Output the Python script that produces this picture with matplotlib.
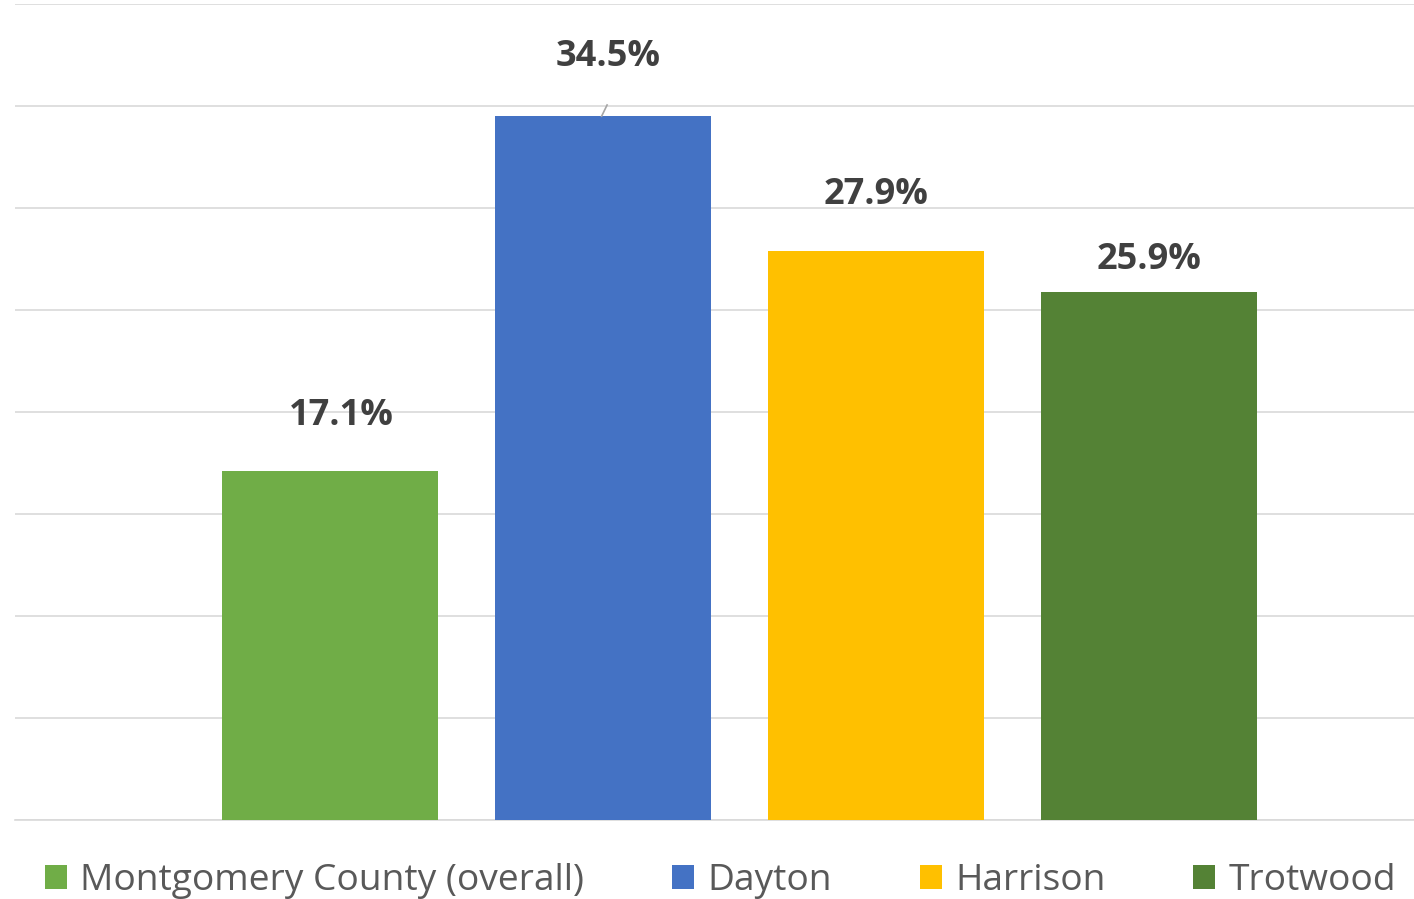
import matplotlib.pyplot as plt

# Data
categories = ["Montgomery County (overall)", "Dayton", "Harrison", "Trotwood"]
values = [17.1, 34.5, 27.9, 25.9]
colors = ["#70AD47", "#4472C4", "#FFC000", "#548235"]
labels = ["17.1%", "34.5%", "27.9%", "25.9%"]

plt.rcParams["font.family"] = ["Open Sans", "DejaVu Sans"]

fig = plt.figure(figsize=(14.14, 8.99), dpi=100)
ax = fig.add_axes([15 / 1414, 1 - 820 / 899, 1 - 15 / 1414, 816 / 899])

x = list(range(len(values)))
bars = ax.bar(x, values, width=0.79, color=colors, label=categories, zorder=3)

ax.set_ylim(0, 40)
ax.set_xlim(-1.154, 3.971)
ax.set_yticks(range(0, 41, 5))
ax.yaxis.grid(True, color="#D9D9D9", linewidth=1.2, zorder=0)
ax.tick_params(left=False, bottom=False, labelleft=False, labelbottom=False)
for s in ["top", "right", "left"]:
    ax.spines[s].set_visible(False)
ax.spines["bottom"].set_color("#D9D9D9")
ax.spines["bottom"].set_linewidth(1.2)

# Data labels
offsets = [2.7, 2.9, 2.73, 1.55]
dx = [0.04, 0.02, 0.0, 0.0]
for xi, v, lab, off, d in zip(x, values, labels, offsets, dx):
    ax.text(xi + d, v + off, lab, ha="center", va="center",
            fontsize=26, fontweight="bold", color="#404040")
# small leader line for Dayton label
ax.plot([0.995, 1.015], [34.5, 35.05], color="#A6A6A6", linewidth=1.2, zorder=4)

leg = fig.legend(handles=bars, labels=categories, loc="center left",
                 bbox_to_anchor=(45 / 1414, 1 - 881 / 899), ncol=4, frameon=False,
                 fontsize=26.7, labelcolor="#595959", handlelength=0.6,
                 handleheight=0.6, handletextpad=0.35, columnspacing=2.37,
                 borderpad=0, borderaxespad=0)

fig.savefig("out.png", dpi=100)
